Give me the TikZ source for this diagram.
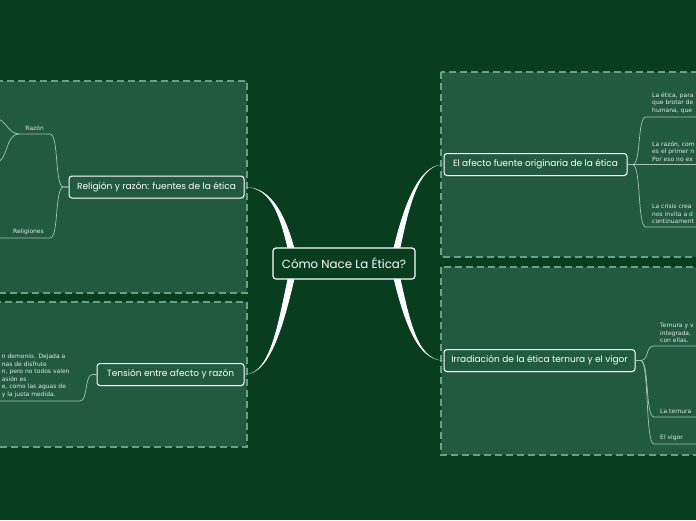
\documentclass[tikz,border=0pt]{standalone}
\usepackage{fontspec}
\setmainfont{DejaVu Sans}
\newfontfamily\handfont{Poppins}
\usepackage{tikz}
\usetikzlibrary{positioning, shadows}
\usepackage{xcolor}
\definecolor{BoardGreen}{RGB}{8, 61, 32}
\definecolor{PanelGreen}{RGB}{33, 89, 65}
\definecolor{PanelEdge}{RGB}{104, 160, 140}
\definecolor{TwigGrey}{RGB}{165, 196, 182}
\definecolor{LeafText}{RGB}{226, 236, 231}
\pgfdeclarelayer{back}
\pgfsetlayers{back,main}

\begin{document}
\begin{tikzpicture}[x=1pt, y=-1pt,
            panel/.style={fill=PanelGreen, draw=PanelEdge, line width=1.2pt, dash pattern=on 7pt off 4pt},
            hub/.style={draw=white, line width=1.2pt, rounded corners=3pt, fill=BoardGreen, text=white, font=\handfont\fontsize{11.8}{14}\selectfont, minimum width=142pt, minimum height=31pt, inner sep=0pt},
            topic/.style={draw=white, line width=1pt, rounded corners=3pt, fill=PanelGreen, text=white, font=\handfont\fontsize{9}{11}\selectfont, minimum height=22pt, inner xsep=4pt, inner ysep=0pt, drop shadow={opacity=0.35, shadow xshift=1pt, shadow yshift=-1pt}},
            leaf/.style={text=LeafText, font=\fontsize{6}{7.6}\selectfont, align=left, inner xsep=6pt, inner ysep=3pt},
            twig/.style={draw=TwigGrey, line width=0.7pt},
            trunk/.style={fill=white}
        ]
        \useasboundingbox (0,0) rectangle (696,520);
        \clip (0,0) rectangle (696,520);

        % Centre and main topics
        \node[hub] (hub) at (344,263.5) {Cómo Nace La Ética?};
        \node[topic, minimum width=175pt] (fuentes) at (156.5,187) {Religión y razón: fuentes de la ética};
        \node[topic, minimum width=147pt] (tension) at (170.5,374.5) {Tensión entre afecto y razón};
        \node[topic, minimum width=183pt] (afecto) at (535.5,164.5) {El afecto fuente originaria de la ética};
        \node[topic, minimum width=191pt] (irradia) at (539.5,360.5) {Irradiación de la ética ternura y el vigor};

        % Leaves, left
        \node[leaf, anchor=south east] (razon) at (50,134) {Razón};
        \node[leaf, anchor=south east] (religiones) at (50,238) {Religiones};
        \node[leaf, anchor=south east, text width=76pt, inner xsep=2pt] (demonio) at (80,401) {n demonio. Dejada a\\nas de disfrute\\n, pero no todos valen\\asión es\\e, como las aguas de\\y la justa medida.};
        \coordinate (rz1) at (-6,118);
        \coordinate (rz2) at (-6,163);
        \coordinate (rg) at (-4,238);

        % Leaves, right
        \node[leaf, anchor=south west, text width=60pt] (etica) at (646,117) {La ética, para\\que brotar de\\humana, que};
        \node[leaf, anchor=south west, text width=60pt] (primer) at (646,164.5) {La razón, com\\es el primer n\\Por eso no ex};
        \node[leaf, anchor=south west, text width=60pt] (crisis) at (646,227) {La crisis crea\\nos invita a d\\continuament};
        \node[leaf, anchor=south west, text width=60pt] (integrada) at (654,346) {Ternura y v\\integrada,\\con ellas.};
        \node[leaf, anchor=south west, text width=60pt] (ternura) at (654,417) {La ternura};
        \node[leaf, anchor=south west, text width=60pt] (vigor) at (654,444) {El vigor};

        % Twigs
        \draw[twig] (fuentes.west) -- ++(-5,0) .. controls +(-9,0) and +(9,0) .. (razon.south east) -- (razon.south west) to[out=180, in=0] (rz1);
        \draw[twig] (razon.south west) to[out=180, in=0] (rz2);
        \draw[twig] (fuentes.west) -- ++(-5,0) .. controls +(-9,0) and +(9,0) .. (religiones.south east) -- (religiones.south west) -- (rg);
        \draw[twig] (tension.west) -- ++(-4,0) .. controls +(-8,0) and +(8,0) .. (demonio.south east) -- (demonio.south west);
        \draw[twig] (afecto.east) -- ++(5,0) .. controls +(9,0) and +(-9,0) .. (etica.south west) -- (etica.south east);
        \draw[twig] (afecto.east) -- (primer.south west) -- (primer.south east);
        \draw[twig] (afecto.east) -- ++(5,0) .. controls +(9,0) and +(-9,0) .. (crisis.south west) -- (crisis.south east);
        \draw[twig] (irradia.east) -- ++(5,0) .. controls +(9,0) and +(-9,0) .. (integrada.south west) -- (integrada.south east);
        \draw[twig] (irradia.east) -- ++(5,0) .. controls +(9,0) and +(-9,0) .. (ternura.south west) -- (ternura.south east);
        \draw[twig] (irradia.east) -- ++(5,0) .. controls +(9,0) and +(-9,0) .. (vigor.south west) -- (vigor.south east);

        \begin{pgfonlayer}{back}
        \clip (0,0) rectangle (696,520);
        \fill[BoardGreen] (0,0) rectangle (696,520);

        % Panels
        \draw[panel] (-20,81) rectangle (247,293);
        \draw[panel] (-20,302) rectangle (247,447);
        \draw[panel] (441,72) rectangle (720,257);
        \draw[panel] (441,267) rectangle (720,455);

        % Trunks
        \fill[trunk] (fuentes.east) .. controls +(28,-0.5) and +(-10,-46) .. ([xshift=-46pt]hub.center) -- ([xshift=-53pt]hub.center) .. controls +(-10,-46) and +(28,0.5) .. (fuentes.east);
        \fill[trunk] (tension.east) .. controls +(28,-0.5) and +(-12,52) .. ([xshift=-53pt]hub.center) -- ([xshift=-46pt]hub.center) .. controls +(-12,52) and +(28,0.5) .. (tension.east);
        \fill[trunk] (afecto.west) .. controls +(-28,0.5) and +(10,-46) .. ([xshift=53pt]hub.center) -- ([xshift=46pt]hub.center) .. controls +(10,-46) and +(-28,-0.5) .. (afecto.west);
        \fill[trunk] (irradia.west) .. controls +(-28,0.5) and +(12,52) .. ([xshift=46pt]hub.center) -- ([xshift=53pt]hub.center) .. controls +(12,52) and +(-28,-0.5) .. (irradia.west);
        \end{pgfonlayer}

        \end{tikzpicture}
\end{document}
